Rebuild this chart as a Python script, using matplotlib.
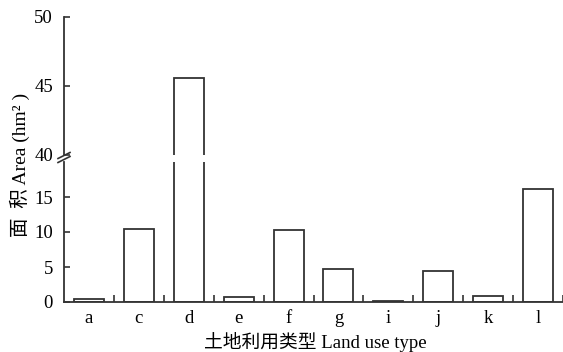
import matplotlib
matplotlib.use("Agg")
import matplotlib.pyplot as plt
import numpy as np

plt.rcParams['font.family'] = ['Liberation Serif', 'Noto Sans CJK SC']
plt.rcParams['axes.unicode_minus'] = False

# data
categories = ['a', 'c', 'd', 'e', 'f', 'g', 'i', 'j', 'k', 'l']
areas = [0.5, 10.5, 45.6, 0.75, 10.3, 4.7, 0.1, 4.4, 0.8, 16.1]
low_ticks = [0, 5, 10, 15]
high_ticks = [40, 45, 50]

W, H = 563, 352
fig = plt.figure(figsize=(W / 100, H / 100), dpi=100)

left = 64 / W
ax_hi = fig.add_axes([left, 1 - 155 / H, 1 - left, (155 - 17) / H])
ax_lo = fig.add_axes([left, 1 - 302 / H, 1 - left, (302 - 162) / H])

ink = '#333333'
x = np.arange(len(categories))

for ax in (ax_hi, ax_lo):
    ax.bar(x, areas, width=0.6, facecolor='white', edgecolor=ink, linewidth=1.3)
    ax.set_xlim(-0.5, len(categories) - 0.5)
    ax.spines['top'].set_visible(False)
    ax.spines['right'].set_visible(False)
    ax.spines['left'].set_color(ink)
    ax.spines['left'].set_linewidth(1.3)
    ax.tick_params(axis='y', direction='in', length=4, width=1.2, color=ink,
                   labelsize=13.5, pad=8)
    ax.set_facecolor('none')

ax_hi.set_ylim(40, 50)
ax_hi.set_yticks(high_ticks)
ax_hi.spines['bottom'].set_visible(False)
ax_hi.set_xticks([])

ax_lo.set_ylim(0, 20)
ax_lo.set_yticks(low_ticks)
ax_lo.spines['bottom'].set_color(ink)
ax_lo.spines['bottom'].set_linewidth(1.3)
ax_lo.set_xticks(x)
ax_lo.set_xticklabels(categories)
ax_lo.set_xticks(np.arange(len(categories)) + 0.5, minor=True)
ax_lo.tick_params(axis='x', which='major', length=0, labelsize=13.5, pad=6)
ax_lo.tick_params(axis='x', which='minor', direction='in', length=5,
                  width=1.2, color=ink)

# axis titles
fig.text(315 / W, 1 - 342 / H, '土地利用类型 Land use type', fontsize=13.5,
         ha='center', va='center')
fig.text(20 / W, 1 - 165 / H, '面  积 Area (hm² )', rotation=90, fontsize=14,
         ha='center', va='center')

# break marks on the y axis
for yy in (155.5, 159.5):
    fig.add_artist(plt.Line2D([58 / W, 70 / W], [1 - (yy + 3) / H, 1 - (yy - 3) / H],
                              color=ink, linewidth=1.2))

fig.savefig('out.png', dpi=100)
